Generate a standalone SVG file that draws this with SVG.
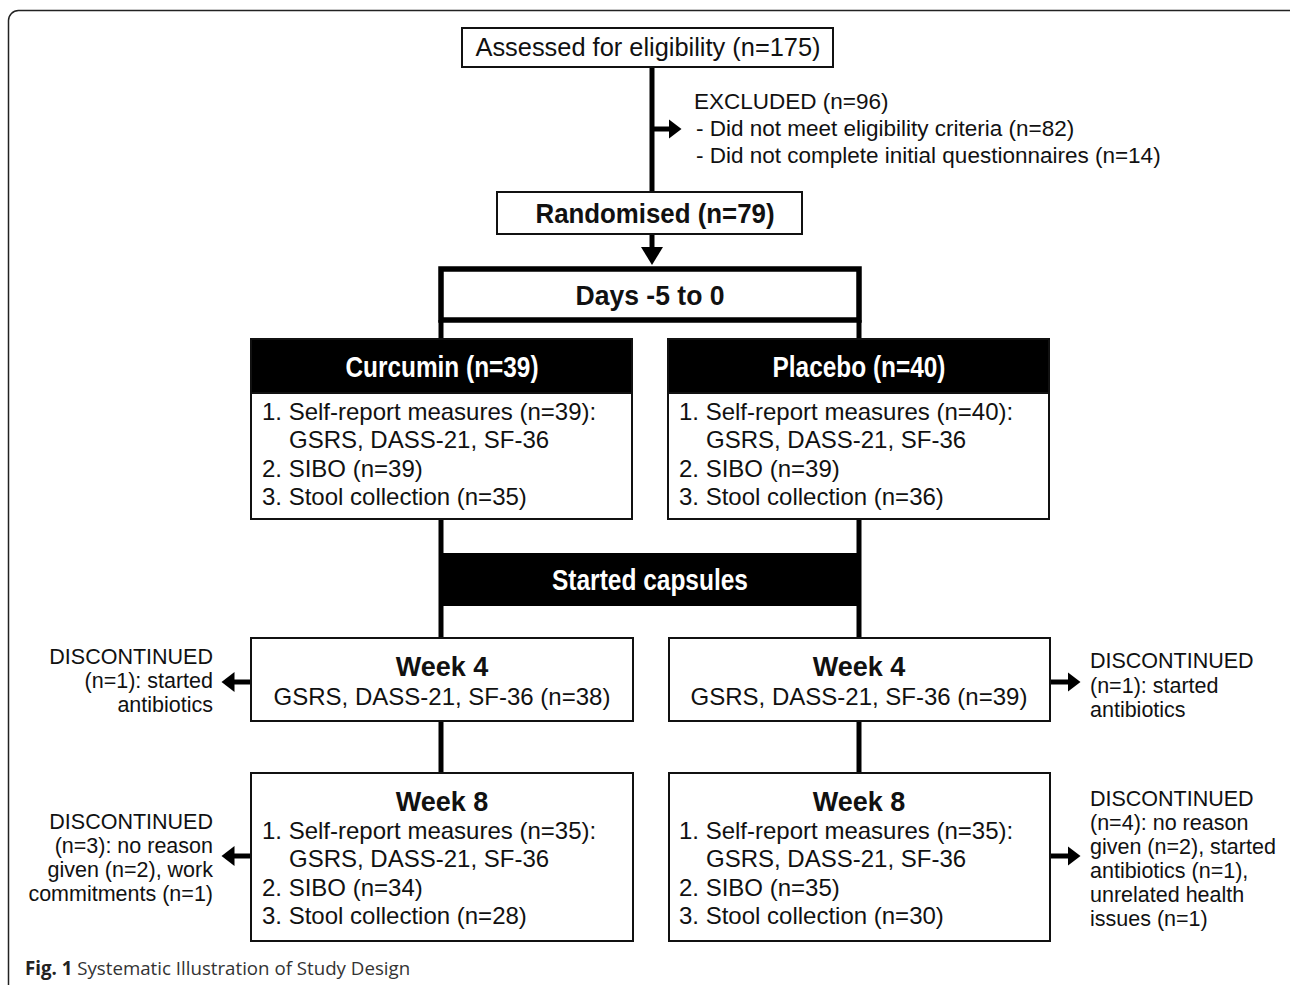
<svg xmlns="http://www.w3.org/2000/svg" width="1290" height="985" viewBox="0 0 1290 985">
<style>
.box{fill:#fff;stroke:#111;stroke-width:2}
.blk{fill:#000;stroke:#111;stroke-width:2}
.ln{stroke:#000;stroke-width:5;fill:none}
.t{font-family:"Liberation Sans",Arial,sans-serif;font-size:24px;fill:#111}
.x{font-family:"Liberation Sans",Arial,sans-serif;font-size:22.5px;fill:#111}
.b{font-family:"Liberation Sans",Arial,sans-serif;font-weight:bold;font-size:27px;fill:#111}
.w{font-family:"Liberation Sans",Arial,sans-serif;font-weight:bold;font-size:29px;fill:#fff}
.s{font-family:"Liberation Sans",Arial,sans-serif;font-size:21.5px;fill:#111}
.cap{font-family:"Open Sans",sans-serif;font-size:18.7px;fill:#333}
</style>
<defs>
<marker id="ah" markerWidth="3" markerHeight="4" refX="0.5" refY="2" orient="auto" markerUnits="strokeWidth"><path d="M0,0 L2.6,2 L0,4 Z" fill="#000"/></marker>
</defs>
<rect x="8.5" y="10.5" width="1300" height="1000" rx="10" fill="none" stroke="#222" stroke-width="1.5"/>

<g id="connectors">
<line class="ln" x1="652" y1="67" x2="652" y2="192"/>
<line class="ln" x1="652" y1="129" x2="671" y2="129" marker-end="url(#ah)"/>
<line class="ln" x1="652" y1="234" x2="652" y2="248"/>
<polygon points="641,247 663,247 652,265" fill="#000"/>
<line class="ln" x1="441" y1="320" x2="441" y2="638"/>
<line class="ln" x1="859" y1="320" x2="859" y2="638"/>
<line class="ln" x1="441" y1="721" x2="441" y2="773"/>
<line class="ln" x1="859" y1="721" x2="859" y2="773"/>
<line class="ln" x1="251" y1="682" x2="232" y2="682" marker-end="url(#ah)"/>
<line class="ln" x1="251" y1="856" x2="232" y2="856" marker-end="url(#ah)"/>
<line class="ln" x1="1050" y1="682" x2="1070" y2="682" marker-end="url(#ah)"/>
<line class="ln" x1="1050" y1="856" x2="1070" y2="856" marker-end="url(#ah)"/>
</g>

<g id="assessed">
<rect class="box" x="462" y="28" width="371" height="39"/>
<text class="t" x="648" y="56" text-anchor="middle" style="font-size:25.4px">Assessed for eligibility (n=175)</text>
</g>

<g id="excluded">
<text class="x" x="694" y="109">EXCLUDED (n=96)</text>
<text class="x" x="696" y="136">- Did not meet eligibility criteria (n=82)</text>
<text class="x" x="696" y="163">- Did not complete initial questionnaires (n=14)</text>
</g>

<g id="randomised">
<rect class="box" x="497" y="192" width="305" height="42"/>
<text class="b" x="655" y="223" text-anchor="middle" style="font-size:28px" textLength="239" lengthAdjust="spacingAndGlyphs">Randomised (n=79)</text>
</g>

<g id="days">
<rect x="441" y="269" width="418" height="51" fill="#fff" stroke="#000" stroke-width="5.5"/>
<text class="b" x="650" y="305" text-anchor="middle" textLength="149" lengthAdjust="spacingAndGlyphs">Days -5 to 0</text>
</g>

<g id="curcumin">
<rect class="box" x="251" y="339" width="381" height="180"/>
<rect class="blk" x="251" y="339" width="381" height="54"/>
<text class="w" x="442" y="377" text-anchor="middle" textLength="193" lengthAdjust="spacingAndGlyphs">Curcumin (n=39)</text>
<text class="t" x="262" y="420">1. Self-report measures (n=39):</text>
<text class="t" x="289" y="448">GSRS, DASS-21, SF-36</text>
<text class="t" x="262" y="477">2. SIBO (n=39)</text>
<text class="t" x="262" y="505">3. Stool collection (n=35)</text>
</g>

<g id="placebo">
<rect class="box" x="668" y="339" width="381" height="180"/>
<rect class="blk" x="668" y="339" width="381" height="54"/>
<text class="w" x="859" y="377" text-anchor="middle" textLength="173" lengthAdjust="spacingAndGlyphs">Placebo (n=40)</text>
<text class="t" x="679" y="420">1. Self-report measures (n=40):</text>
<text class="t" x="706" y="448">GSRS, DASS-21, SF-36</text>
<text class="t" x="679" y="477">2. SIBO (n=39)</text>
<text class="t" x="679" y="505">3. Stool collection (n=36)</text>
</g>

<g id="started">
<rect x="441" y="553" width="418" height="53" fill="#000"/>
<text class="w" x="650" y="590" text-anchor="middle" textLength="196" lengthAdjust="spacingAndGlyphs">Started capsules</text>
</g>

<g id="week4-curcumin">
<rect class="box" x="251" y="638" width="382" height="83"/>
<text class="b" x="442" y="676" text-anchor="middle">Week 4</text>
<text class="t" x="442" y="705" text-anchor="middle">GSRS, DASS-21, SF-36 (n=38)</text>
</g>

<g id="week4-placebo">
<rect class="box" x="669" y="638" width="381" height="83"/>
<text class="b" x="859" y="676" text-anchor="middle">Week 4</text>
<text class="t" x="859" y="705" text-anchor="middle">GSRS, DASS-21, SF-36 (n=39)</text>
</g>

<g id="week8-curcumin">
<rect class="box" x="251" y="773" width="382" height="168"/>
<text class="b" x="442" y="811" text-anchor="middle">Week 8</text>
<text class="t" x="262" y="839">1. Self-report measures (n=35):</text>
<text class="t" x="289" y="867">GSRS, DASS-21, SF-36</text>
<text class="t" x="262" y="896">2. SIBO (n=34)</text>
<text class="t" x="262" y="924">3. Stool collection (n=28)</text>
</g>

<g id="week8-placebo">
<rect class="box" x="669" y="773" width="381" height="168"/>
<text class="b" x="859" y="811" text-anchor="middle">Week 8</text>
<text class="t" x="679" y="839">1. Self-report measures (n=35):</text>
<text class="t" x="706" y="867">GSRS, DASS-21, SF-36</text>
<text class="t" x="679" y="896">2. SIBO (n=35)</text>
<text class="t" x="679" y="924">3. Stool collection (n=30)</text>
</g>

<g id="disc-w4-left">
<text class="s" x="213" y="664" text-anchor="end">DISCONTINUED</text>
<text class="s" x="213" y="688" text-anchor="end">(n=1): started</text>
<text class="s" x="213" y="712" text-anchor="end">antibiotics</text>
</g>

<g id="disc-w8-left">
<text class="s" x="213" y="829" text-anchor="end">DISCONTINUED</text>
<text class="s" x="213" y="853" text-anchor="end">(n=3): no reason</text>
<text class="s" x="213" y="877" text-anchor="end">given (n=2), work</text>
<text class="s" x="213" y="901" text-anchor="end">commitments (n=1)</text>
</g>

<g id="disc-w4-right">
<text class="s" x="1090" y="668">DISCONTINUED</text>
<text class="s" x="1090" y="693">(n=1): started</text>
<text class="s" x="1090" y="717">antibiotics</text>
</g>

<g id="disc-w8-right">
<text class="s" x="1090" y="806">DISCONTINUED</text>
<text class="s" x="1090" y="830">(n=4): no reason</text>
<text class="s" x="1090" y="854">given (n=2), started</text>
<text class="s" x="1090" y="878">antibiotics (n=1),</text>
<text class="s" x="1090" y="902">unrelated health</text>
<text class="s" x="1090" y="926">issues (n=1)</text>
</g>

<g id="caption">
<text class="cap" x="25" y="975"><tspan font-weight="bold" fill="#222">Fig. 1</tspan> Systematic Illustration of Study Design</text>
</g>
</svg>
